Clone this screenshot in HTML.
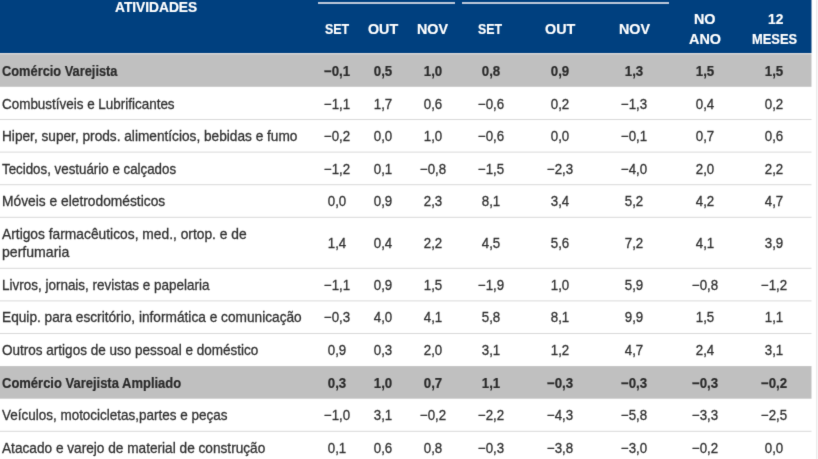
<!DOCTYPE html>
<html><head><meta charset="utf-8"><style>
html,body{margin:0;padding:0;background:#fff;}
body{width:818px;height:459px;overflow:hidden;position:relative;font-family:"Liberation Sans",sans-serif;color:#303030;-webkit-text-stroke:0.3px #303030;}
#w{position:absolute;left:-10px;top:-10px;width:838px;height:479px;background:#fff;filter:url(#f);}
#c{position:absolute;left:10px;top:10px;width:818px;height:459px;}
/*0*/
.hd{position:absolute;left:0;top:0;width:812px;height:53px;background:#00407f;box-shadow:-10px -10px 0 0 #00407f, -10px 0 0 0 #00407f, 0 -10px 0 0 #00407f;}
.r{position:absolute;left:0;width:812px;}
.r.g{background:#c0c0c0;font-weight:bold;color:#2a2a2a;-webkit-text-stroke:0.2px #2a2a2a;box-shadow:-10px 0 0 0 #c0c0c0}
.b{position:absolute;left:-10px;width:812px;padding-left:10px;box-sizing:content-box}
.l{position:absolute;left:2.3px;margin-top:0px;height:18px;font-size:14.3px;line-height:18px;white-space:nowrap;transform-origin:0 50%;}
.v{position:absolute;margin-top:0px;height:18px;line-height:18px;width:60px;margin-left:-30px;text-align:center;font-size:14.3px;}
.bd{font-weight:bold;color:#2a2a2a;-webkit-text-stroke:0.2px #2a2a2a;}
.h{position:absolute;color:#fff;-webkit-text-stroke:0.2px #fff;font-weight:bold;font-size:15.5px;line-height:20px;height:20px;white-space:nowrap;transform-origin:0 50%;}
.ln{position:absolute;height:2px;background:#bcc7d9;top:2px;}
</style></head><body>

<svg width="0" height="0" style="position:absolute"><defs><filter id="f" x="0" y="0" width="100%" height="100%" color-interpolation-filters="sRGB"><feConvolveMatrix order="3" kernelMatrix="0.0100 0.0800 0.0100 0.0800 0.6400 0.0800 0.0100 0.0800 0.0100" edgeMode="duplicate" preserveAlpha="true"/></filter></defs></svg>
<div id="w"><div id="c">
<div class="hd">
<div class="ln" style="left:318px;width:137px"></div><div class="ln" style="left:462px;width:207px"></div>
<div class="h" style="left:115.40px;top:-3.12px;transform:scaleX(0.8864)">ATIVIDADES</div>
<div class="h" style="left:324.70px;top:18.88px;transform:scaleX(0.8025)">SET</div>
<div class="h" style="left:368.30px;top:18.88px;transform:scaleX(0.9200)">OUT</div>
<div class="h" style="left:417.30px;top:18.88px;transform:scaleX(0.9228)">NOV</div>
<div class="h" style="left:478.40px;top:18.88px;transform:scaleX(0.7992)">SET</div>
<div class="h" style="left:544.90px;top:18.88px;transform:scaleX(0.9230)">OUT</div>
<div class="h" style="left:618.90px;top:18.88px;transform:scaleX(0.9228)">NOV</div>
<div class="h" style="left:694.10px;top:8.68px;transform:scaleX(0.9247)">NO</div>
<div class="h" style="left:689.30px;top:28.68px;transform:scaleX(0.9288)">ANO</div>
<div class="h" style="left:767.70px;top:8.68px;transform:scaleX(0.8870)">12</div>
<div class="h" style="left:752.30px;top:28.68px;transform:scaleX(0.8311)">MESES</div>
</div>
<div class="b" style="top:86px;height:1px;background:rgba(192,192,192,0.800)"></div>
<div class="b" style="top:53px;height:33px;background:#c0c0c0"></div>
<div class="l bd" style="top:62px;transform:scaleX(0.8971)">Comércio Varejista</div>
<div class="v bd" style="left:337px;top:62px;transform:scaleX(0.93)">−0,1</div>
<div class="v bd" style="left:383.2px;top:62px;transform:scaleX(0.93)">0,5</div>
<div class="v bd" style="left:432.7px;top:62px;transform:scaleX(0.93)">1,0</div>
<div class="v bd" style="left:490.5px;top:62px;transform:scaleX(0.93)">0,8</div>
<div class="v bd" style="left:560px;top:62px;transform:scaleX(0.93)">0,9</div>
<div class="v bd" style="left:634px;top:62px;transform:scaleX(0.93)">1,3</div>
<div class="v bd" style="left:705.3px;top:62px;transform:scaleX(0.93)">1,5</div>
<div class="v bd" style="left:774.2px;top:62px;transform:scaleX(0.93)">1,5</div>
<div class="l " style="top:95px;transform:scaleX(0.9402)">Combustíveis e Lubrificantes</div>
<div class="v " style="left:337px;top:95px;transform:scaleX(0.93)">−1,1</div>
<div class="v " style="left:383.2px;top:95px;transform:scaleX(0.93)">1,7</div>
<div class="v " style="left:432.7px;top:95px;transform:scaleX(0.93)">0,6</div>
<div class="v " style="left:490.5px;top:95px;transform:scaleX(0.93)">−0,6</div>
<div class="v " style="left:560px;top:95px;transform:scaleX(0.93)">0,2</div>
<div class="v " style="left:634px;top:95px;transform:scaleX(0.93)">−1,3</div>
<div class="v " style="left:705.3px;top:95px;transform:scaleX(0.93)">0,4</div>
<div class="v " style="left:774.2px;top:95px;transform:scaleX(0.93)">0,2</div>
<div class="l " style="top:127px;transform:scaleX(0.9556)">Hiper, super, prods. alimentícios, bebidas e fumo</div>
<div class="v " style="left:337px;top:127px;transform:scaleX(0.93)">−0,2</div>
<div class="v " style="left:383.2px;top:127px;transform:scaleX(0.93)">0,0</div>
<div class="v " style="left:432.7px;top:127px;transform:scaleX(0.93)">1,0</div>
<div class="v " style="left:490.5px;top:127px;transform:scaleX(0.93)">−0,6</div>
<div class="v " style="left:560px;top:127px;transform:scaleX(0.93)">0,0</div>
<div class="v " style="left:634px;top:127px;transform:scaleX(0.93)">−0,1</div>
<div class="v " style="left:705.3px;top:127px;transform:scaleX(0.93)">0,7</div>
<div class="v " style="left:774.2px;top:127px;transform:scaleX(0.93)">0,6</div>
<div class="l " style="top:160px;transform:scaleX(0.9322)">Tecidos, vestuário e calçados</div>
<div class="v " style="left:337px;top:160px;transform:scaleX(0.93)">−1,2</div>
<div class="v " style="left:383.2px;top:160px;transform:scaleX(0.93)">0,1</div>
<div class="v " style="left:432.7px;top:160px;transform:scaleX(0.93)">−0,8</div>
<div class="v " style="left:490.5px;top:160px;transform:scaleX(0.93)">−1,5</div>
<div class="v " style="left:560px;top:160px;transform:scaleX(0.93)">−2,3</div>
<div class="v " style="left:634px;top:160px;transform:scaleX(0.93)">−4,0</div>
<div class="v " style="left:705.3px;top:160px;transform:scaleX(0.93)">2,0</div>
<div class="v " style="left:774.2px;top:160px;transform:scaleX(0.93)">2,2</div>
<div class="l " style="top:192px;transform:scaleX(0.9642)">Móveis e eletrodomésticos</div>
<div class="v " style="left:337px;top:192px;transform:scaleX(0.93)">0,0</div>
<div class="v " style="left:383.2px;top:192px;transform:scaleX(0.93)">0,9</div>
<div class="v " style="left:432.7px;top:192px;transform:scaleX(0.93)">2,3</div>
<div class="v " style="left:490.5px;top:192px;transform:scaleX(0.93)">8,1</div>
<div class="v " style="left:560px;top:192px;transform:scaleX(0.93)">3,4</div>
<div class="v " style="left:634px;top:192px;transform:scaleX(0.93)">5,2</div>
<div class="v " style="left:705.3px;top:192px;transform:scaleX(0.93)">4,2</div>
<div class="v " style="left:774.2px;top:192px;transform:scaleX(0.93)">4,7</div>
<div class="l " style="top:225px;transform:scaleX(0.9649)">Artigos farmacêuticos, med., ortop. e de</div>
<div class="l " style="top:243px;transform:scaleX(0.9847)">perfumaria</div>
<div class="v " style="left:337px;top:234px;transform:scaleX(0.93)">1,4</div>
<div class="v " style="left:383.2px;top:234px;transform:scaleX(0.93)">0,4</div>
<div class="v " style="left:432.7px;top:234px;transform:scaleX(0.93)">2,2</div>
<div class="v " style="left:490.5px;top:234px;transform:scaleX(0.93)">4,5</div>
<div class="v " style="left:560px;top:234px;transform:scaleX(0.93)">5,6</div>
<div class="v " style="left:634px;top:234px;transform:scaleX(0.93)">7,2</div>
<div class="v " style="left:705.3px;top:234px;transform:scaleX(0.93)">4,1</div>
<div class="v " style="left:774.2px;top:234px;transform:scaleX(0.93)">3,9</div>
<div class="l " style="top:276px;transform:scaleX(0.9422)">Livros, jornais, revistas e papelaria</div>
<div class="v " style="left:337px;top:276px;transform:scaleX(0.93)">−1,1</div>
<div class="v " style="left:383.2px;top:276px;transform:scaleX(0.93)">0,9</div>
<div class="v " style="left:432.7px;top:276px;transform:scaleX(0.93)">1,5</div>
<div class="v " style="left:490.5px;top:276px;transform:scaleX(0.93)">−1,9</div>
<div class="v " style="left:560px;top:276px;transform:scaleX(0.93)">1,0</div>
<div class="v " style="left:634px;top:276px;transform:scaleX(0.93)">5,9</div>
<div class="v " style="left:705.3px;top:276px;transform:scaleX(0.93)">−0,8</div>
<div class="v " style="left:774.2px;top:276px;transform:scaleX(0.93)">−1,2</div>
<div class="l " style="top:308px;transform:scaleX(0.9572)">Equip. para escritório, informática e comunicação</div>
<div class="v " style="left:337px;top:308px;transform:scaleX(0.93)">−0,3</div>
<div class="v " style="left:383.2px;top:308px;transform:scaleX(0.93)">4,0</div>
<div class="v " style="left:432.7px;top:308px;transform:scaleX(0.93)">4,1</div>
<div class="v " style="left:490.5px;top:308px;transform:scaleX(0.93)">5,8</div>
<div class="v " style="left:560px;top:308px;transform:scaleX(0.93)">8,1</div>
<div class="v " style="left:634px;top:308px;transform:scaleX(0.93)">9,9</div>
<div class="v " style="left:705.3px;top:308px;transform:scaleX(0.93)">1,5</div>
<div class="v " style="left:774.2px;top:308px;transform:scaleX(0.93)">1,1</div>
<div class="l " style="top:341px;transform:scaleX(0.9458)">Outros artigos de uso pessoal e doméstico</div>
<div class="v " style="left:337px;top:341px;transform:scaleX(0.93)">0,9</div>
<div class="v " style="left:383.2px;top:341px;transform:scaleX(0.93)">0,3</div>
<div class="v " style="left:432.7px;top:341px;transform:scaleX(0.93)">2,0</div>
<div class="v " style="left:490.5px;top:341px;transform:scaleX(0.93)">3,1</div>
<div class="v " style="left:560px;top:341px;transform:scaleX(0.93)">1,2</div>
<div class="v " style="left:634px;top:341px;transform:scaleX(0.93)">4,7</div>
<div class="v " style="left:705.3px;top:341px;transform:scaleX(0.93)">2,4</div>
<div class="v " style="left:774.2px;top:341px;transform:scaleX(0.93)">3,1</div>
<div class="b" style="top:366px;height:1px;background:rgba(192,192,192,0.900)"></div>
<div class="b" style="top:398px;height:1px;background:rgba(192,192,192,0.700)"></div>
<div class="b" style="top:367px;height:31px;background:#c0c0c0"></div>
<div class="l bd" style="top:374px;transform:scaleX(0.9082)">Comércio Varejista Ampliado</div>
<div class="v bd" style="left:337px;top:374px;transform:scaleX(0.93)">0,3</div>
<div class="v bd" style="left:383.2px;top:374px;transform:scaleX(0.93)">1,0</div>
<div class="v bd" style="left:432.7px;top:374px;transform:scaleX(0.93)">0,7</div>
<div class="v bd" style="left:490.5px;top:374px;transform:scaleX(0.93)">1,1</div>
<div class="v bd" style="left:560px;top:374px;transform:scaleX(0.93)">−0,3</div>
<div class="v bd" style="left:634px;top:374px;transform:scaleX(0.93)">−0,3</div>
<div class="v bd" style="left:705.3px;top:374px;transform:scaleX(0.93)">−0,3</div>
<div class="v bd" style="left:774.2px;top:374px;transform:scaleX(0.93)">−0,2</div>
<div class="l " style="top:406px;transform:scaleX(0.9423)">Veículos, motocicletas,partes e peças</div>
<div class="v " style="left:337px;top:406px;transform:scaleX(0.93)">−1,0</div>
<div class="v " style="left:383.2px;top:406px;transform:scaleX(0.93)">3,1</div>
<div class="v " style="left:432.7px;top:406px;transform:scaleX(0.93)">−0,2</div>
<div class="v " style="left:490.5px;top:406px;transform:scaleX(0.93)">−2,2</div>
<div class="v " style="left:560px;top:406px;transform:scaleX(0.93)">−4,3</div>
<div class="v " style="left:634px;top:406px;transform:scaleX(0.93)">−5,8</div>
<div class="v " style="left:705.3px;top:406px;transform:scaleX(0.93)">−3,3</div>
<div class="v " style="left:774.2px;top:406px;transform:scaleX(0.93)">−2,5</div>
<div class="l " style="top:439px;transform:scaleX(0.9547)">Atacado e varejo de material de construção</div>
<div class="v " style="left:337px;top:439px;transform:scaleX(0.93)">0,1</div>
<div class="v " style="left:383.2px;top:439px;transform:scaleX(0.93)">0,6</div>
<div class="v " style="left:432.7px;top:439px;transform:scaleX(0.93)">0,8</div>
<div class="v " style="left:490.5px;top:439px;transform:scaleX(0.93)">−0,3</div>
<div class="v " style="left:560px;top:439px;transform:scaleX(0.93)">−3,8</div>
<div class="v " style="left:634px;top:439px;transform:scaleX(0.93)">−3,0</div>
<div class="v " style="left:705.3px;top:439px;transform:scaleX(0.93)">−0,2</div>
<div class="v " style="left:774.2px;top:439px;transform:scaleX(0.93)">0,0</div>
<div class="b" style="top:119px;height:1px;background:rgba(0,0,0,0.150)"></div>
<div class="b" style="top:151px;height:1px;background:rgba(0,0,0,0.060)"></div>
<div class="b" style="top:152px;height:1px;background:rgba(0,0,0,0.090)"></div>
<div class="b" style="top:184px;height:1px;background:rgba(0,0,0,0.120)"></div>
<div class="b" style="top:185px;height:1px;background:rgba(0,0,0,0.030)"></div>
<div class="b" style="top:216px;height:1px;background:rgba(0,0,0,0.030)"></div>
<div class="b" style="top:217px;height:1px;background:rgba(0,0,0,0.120)"></div>
<div class="b" style="top:267px;height:1px;background:rgba(0,0,0,0.030)"></div>
<div class="b" style="top:268px;height:1px;background:rgba(0,0,0,0.120)"></div>
<div class="b" style="top:300px;height:1px;background:rgba(0,0,0,0.090)"></div>
<div class="b" style="top:301px;height:1px;background:rgba(0,0,0,0.060)"></div>
<div class="b" style="top:333px;height:1px;background:rgba(0,0,0,0.150)"></div>
<div class="b" style="top:430px;height:1px;background:rgba(0,0,0,0.030)"></div>
<div class="b" style="top:431px;height:1px;background:rgba(0,0,0,0.120)"></div>
<div class="b" style="top:53px;height:1px;background:#d8d8d8"></div><div class="b" style="top:54px;height:1px;background:#c8c8c8"></div>
<div style="position:absolute;left:811px;top:-10px;width:1px;height:490px;background:rgba(255,255,255,0.5)"></div>
<div style="position:absolute;left:816px;top:0;width:2px;height:459px;background:#f5f5f5;border-left:1px solid #ebebeb;box-sizing:border-box"></div>
</div></div></body></html>
